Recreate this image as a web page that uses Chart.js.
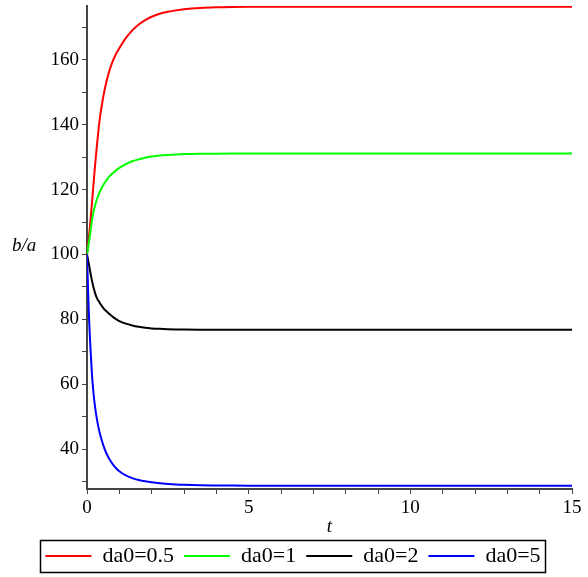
<!DOCTYPE html>
<html>
<head>
<meta charset="utf-8">
<script src="https://cdn.jsdelivr.net/npm/chart.js@4"></script>
<style>
  html, body { margin: 0; padding: 0; background: #fff; }
  #wrap { width: 588px; height: 577px; }
</style>
</head>
<body>
<div id="wrap"><canvas id="ratioChart" width="588" height="577"></canvas></div>
<script>
// time samples shared by all four curves
const tGrid = [0, 0.05, 0.1, 0.15, 0.2, 0.25, 0.3, 0.35, 0.4, 0.5, 0.6, 0.7, 0.8, 0.9, 1, 1.2, 1.4, 1.6, 1.8, 2, 2.25, 2.5, 2.75, 3, 3.5, 4, 4.5, 5, 6, 8, 10, 12, 15];

// b/a for each starting value of da0
const ratioDa05 = [100, 104.5, 109.5, 115.5, 121.5, 127.5, 132.8, 137.8, 142.1, 148.4, 153.2, 156.8, 159.6, 161.8, 163.5, 166.6, 169.0, 170.8, 172.15, 173.2, 174.1, 174.7, 175.15, 175.5, 175.9, 176.1, 176.2, 176.25, 176.3, 176.3, 176.3, 176.3, 176.3];
const ratioDa1  = [100, 103.1, 106.6, 110.3, 113.1, 115.1, 116.8, 118.2, 119.4, 121.3, 122.8, 124.1, 125.1, 125.9, 126.65, 127.8, 128.7, 129.3, 129.8, 130.15, 130.45, 130.65, 130.8, 130.9, 131.0, 131.05, 131.08, 131.1, 131.1, 131.1, 131.1, 131.1, 131.1];
const ratioDa2  = [100, 97.5, 94.7, 92.1, 89.9, 88.1, 86.7, 85.8, 85.0, 83.6, 82.5, 81.6, 80.8, 80.1, 79.5, 78.7, 78.15, 77.75, 77.45, 77.25, 77.1, 77.0, 76.93, 76.9, 76.85, 76.82, 76.8, 76.8, 76.8, 76.8, 76.8, 76.8, 76.8];
const ratioDa5  = [100, 83.8, 72.5, 63.6, 57.4, 53.0, 49.7, 47.0, 44.8, 41.4, 38.8, 36.9, 35.4, 34.2, 33.25, 31.96, 31.14, 30.57, 30.16, 29.86, 29.56, 29.36, 29.21, 29.11, 28.97, 28.9, 28.85, 28.82, 28.8, 28.8, 28.8, 28.8, 28.8];

const seriesLabels = ['da0=0.5', 'da0=1', 'da0=2', 'da0=5'];
const seriesColors = ['#ff0000', '#00ff00', '#000000', '#0000ff'];
const seriesValues = [ratioDa05, ratioDa1, ratioDa2, ratioDa5];

const serif = "'Liberation Serif', 'DejaVu Serif', serif";
const axisGray = '#444';

const datasets = seriesValues.map((vals, i) => ({
    label: seriesLabels[i],
    data: tGrid.map((t, k) => ({ x: t, y: vals[k] })),
    borderColor: seriesColors[i],
    backgroundColor: seriesColors[i],
    borderWidth: 2,
    pointRadius: 0,
    cubicInterpolationMode: 'monotone',
    pointStyle: 'line',
    order: 4 - i
}));

// y axis label sits horizontally to the left of the tick labels,
// and the legend gets a thin frame around its items
const extras = {
    id: 'extras',
    afterLayout(chart) {
        // nudge the legend so it is centred on the page rather than on the padded area
        chart.legend.left += 7;
        chart.legend.right += 7;
    },
    afterDraw(chart) {
        const ctx = chart.ctx;
        const y = chart.scales.y;
        ctx.save();
        ctx.fillStyle = '#000';
        ctx.font = 'italic 19px ' + serif;
        ctx.textAlign = 'left';
        ctx.textBaseline = 'middle';
        ctx.fillText('b/a', 12, y.getPixelForValue(102.5));

        const boxes = chart.legend.legendHitBoxes;
        if (boxes && boxes.length) {
            const left = Math.min(...boxes.map(b => b.left)) - 5;
            const right = Math.max(...boxes.map(b => b.left + b.width)) + 5;
            const top = Math.min(...boxes.map(b => b.top)) - 5;
            const bottom = Math.max(...boxes.map(b => b.top + b.height)) + 5;
            ctx.strokeStyle = '#000';
            ctx.lineWidth = 1.5;
            ctx.strokeRect(Math.round(left) + 0.5, Math.round(top) + 0.5, Math.round(right - left), Math.round(bottom - top));
        }
        ctx.restore();
    }
};

const ctx = document.getElementById('ratioChart').getContext('2d');

new Chart(ctx, {
    type: 'line',
    data: { datasets: datasets },
    options: {
        responsive: false,
        animation: false,
        layout: { padding: { top: 6, right: 16, bottom: 0, left: 0 } },
        plugins: {
            legend: {
                position: 'bottom',
                labels: {
                    usePointStyle: true,
                    pointStyleWidth: 46,
                    boxWidth: 46,
                    boxHeight: 14,
                    padding: 10,
                    color: '#000',
                    font: { family: serif, size: 22 },
                    sort: (a, b) => a.datasetIndex - b.datasetIndex
                }
            },
            tooltip: { enabled: false }
        },
        scales: {
            x: {
                type: 'linear',
                min: 0,
                max: 15,
                border: { display: true, color: axisGray, width: 2 },
                grid: { drawOnChartArea: false, drawTicks: true, tickLength: 5, tickColor: axisGray },
                ticks: {
                    stepSize: 1,
                    autoSkip: false,
                    maxRotation: 0,
                    padding: 3,
                    color: '#000',
                    font: { family: serif, size: 19 },
                    callback: v => (v % 5 === 0 ? v : '')
                },
                title: {
                    display: true,
                    text: 't',
                    color: '#000',
                    font: { family: serif, size: 19, style: 'italic' },
                    padding: { top: 0, bottom: -3 }
                },
                afterFit: scale => { scale.height = 46; }
            },
            y: {
                min: 27.8,
                max: 176.5,
                border: { display: true, color: axisGray, width: 2 },
                grid: { drawOnChartArea: false, drawTicks: true, tickLength: 5, tickColor: axisGray },
                ticks: {
                    stepSize: 10,
                    includeBounds: false,
                    autoSkip: false,
                    padding: 3,
                    color: '#000',
                    font: { family: serif, size: 19 },
                    callback: v => (v % 20 === 0 ? v : '')
                },
                afterFit: scale => {
                    scale.width = 87;
                    scale.paddingTop = 0;
                    scale.paddingBottom = 0;
                }
            }
        }
    },
    plugins: [extras]
});
</script>
</body>
</html>
